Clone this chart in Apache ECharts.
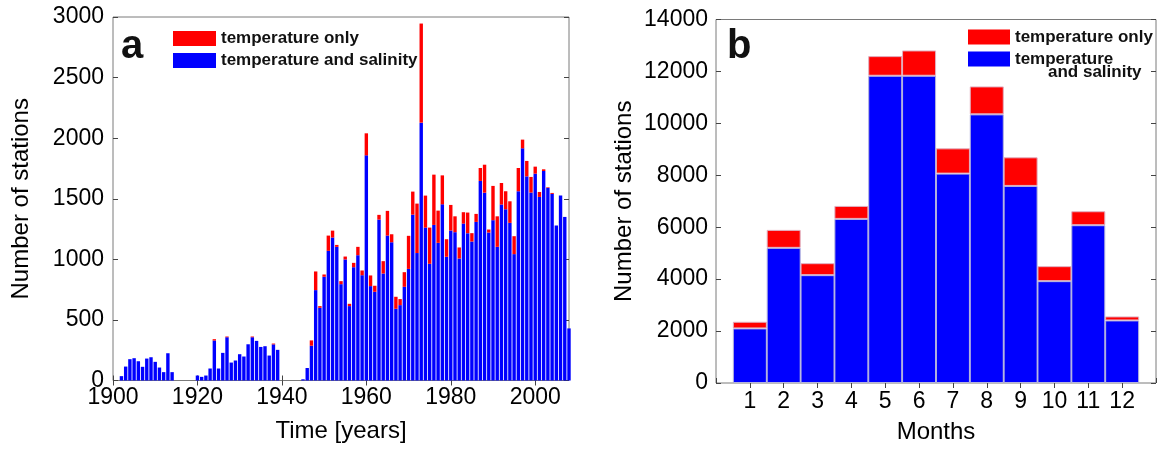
<!DOCTYPE html>
<html><head><meta charset="utf-8">
<script src="https://cdn.jsdelivr.net/npm/echarts@6/dist/echarts.min.js"></script>
<style>html,body{margin:0;padding:0;background:#fff}#c{width:1159px;height:449px}</style>
</head><body><div id="c"></div>
<script>
// ---- Panel a: stations per year ----
const years = [
 1900,1901,1902,1903,1904,1905,1906,1907,1908,1909,
 1910,1911,1912,1913,1914,1915,1916,1917,1918,1919,
 1920,1921,1922,1923,1924,1925,1926,1927,1928,1929,
 1930,1931,1932,1933,1934,1935,1936,1937,1938,1939,
 1940,1941,1942,1943,1944,1945,1946,1947,1948,1949,
 1950,1951,1952,1953,1954,1955,1956,1957,1958,1959,
 1960,1961,1962,1963,1964,1965,1966,1967,1968,1969,
 1970,1971,1972,1973,1974,1975,1976,1977,1978,1979,
 1980,1981,1982,1983,1984,1985,1986,1987,1988,1989,
 1990,1991,1992,1993,1994,1995,1996,1997,1998,1999,
 2000,2001,2002,2003,2004,2005,2006,2007,2008];
const tempSalYear = [
 0,0,36,115,176,184,159,113,181,192,
 154,107,69,225,69,0,0,0,0,0,
 41,30,41,99,330,99,228,357,148,165,
 217,198,299,357,327,277,283,206,298,253,
 0,0,0,0,0,10,103,287,746,600,
 856,1070,1180,1103,795,999,614,935,1034,869,
 1858,779,732,1328,883,1196,1141,592,622,773,
 921,1369,1052,2128,1262,963,1284,1136,1454,1021,
 1238,1224,1007,1295,1216,1147,1309,1647,1550,1221,
 1323,1103,1452,1413,1301,1043,1562,1916,1685,1551,
 1707,1515,1729,1590,1540,1279,1526,1350,430];
const tempOnlyYear = [
 0,0,0,0,0,0,0,0,0,0,
 0,0,0,0,0,0,0,0,0,0,
 0,0,0,0,11,0,0,6,0,0,
 0,0,0,6,0,0,0,0,7,0,
 0,0,0,0,0,0,0,44,154,14,
 19,126,57,16,25,24,19,36,69,39,
 182,88,50,39,102,204,66,99,50,121,
 273,190,408,818,264,299,415,266,239,145,
 211,131,91,94,170,69,66,107,231,25,
 283,252,178,149,178,148,192,72,127,129,
 58,41,14,5,8,0,0,0,0];
const yearTickLabels = [1900,1920,1940,1960,1980,2000];
const yTicksA = { min: 0, max: 3000, step: 500 };

// ---- Panel b: stations per month ----
const monthSlots = [0,1,2,3,4,5,6,7,8,9,10,11,12,13];
const months = [1,2,3,4,5,6,7,8,9,10,11,12];
const tempSalMonth = [2103,5205,4154,6320,11833,11833,8064,10346,7590,3923,6077,2410];
const tempOnlyMonth = [256,692,461,500,757,975,974,1077,1102,577,538,154];
const yTicksB = { min: 0, max: 14000, step: 2000 };

const NAME_ONLY = 'temperature only';
const NAME_SAL = 'temperature and salinity';
const FONT = '"Liberation Sans", Arial, Helvetica, sans-serif';
const BLUE = '#0000ff', RED = '#ff0000';

function padMonths(arr) {
  const out = monthSlots.map(() => '-');
  months.forEach((m, i) => { out[monthSlots.indexOf(m)] = arr[i]; });
  return out;
}

const labelStyle = { fontSize: 23, fontFamily: FONT, color: '#000' };
const nameStyle = { fontSize: 24, fontFamily: FONT, color: '#000' };
const tickStyle = { show: true, inside: true, length: 5, lineStyle: { color: '#444', width: 1 } };
const yearTickFilter = (idx) => yearTickLabels.indexOf(years[idx]) >= 0;
const plain = (v) => String(v);

const chart = echarts.init(document.getElementById('c'), null, { renderer: 'canvas' });
chart.setOption({
  animation: false,
  backgroundColor: '#fff',
  grid: [
    { left: 113, top: 17, width: 456, height: 363.5, show: true, borderColor: '#7a7a7a', borderWidth: 1, backgroundColor: 'transparent' },
    { left: 716, top: 19.5, width: 442, height: 364, show: true, borderColor: '#7a7a7a', borderWidth: 1, backgroundColor: 'transparent' }
  ],
  xAxis: [
    { gridIndex: 0, type: 'category', data: years, boundaryGap: false, position: 'bottom',
      axisLine: { show: false }, axisTick: Object.assign({ interval: yearTickFilter }, tickStyle),
      axisLabel: Object.assign({ interval: yearTickFilter, margin: 6, hideOverlap: false,
        formatter: (v) => (yearTickLabels.indexOf(Number(v)) >= 0 ? String(v) : '') }, labelStyle),
      splitLine: { show: false },
      name: 'Time [years]', nameLocation: 'middle', nameGap: 39, nameTextStyle: nameStyle },
    { gridIndex: 1, type: 'category', data: monthSlots, boundaryGap: false, position: 'bottom',
      axisLine: { show: false }, axisTick: Object.assign({ interval: 0 }, tickStyle),
      axisLabel: Object.assign({ interval: 0, margin: 7, hideOverlap: false,
        formatter: (v) => (months.indexOf(Number(v)) >= 0 ? String(v) : '') }, labelStyle),
      splitLine: { show: false },
      name: 'Months', nameLocation: 'middle', nameGap: 37, nameTextStyle: nameStyle },
    { gridIndex: 0, type: 'category', data: years, boundaryGap: false, position: 'top',
      axisLine: { show: false }, axisTick: Object.assign({ interval: yearTickFilter }, tickStyle),
      axisLabel: { show: false }, splitLine: { show: false } },
    { gridIndex: 1, type: 'category', data: monthSlots, boundaryGap: false, position: 'top',
      axisLine: { show: false },
      axisTick: Object.assign({ interval: (idx) => months.indexOf(monthSlots[idx]) >= 0 }, tickStyle),
      axisLabel: { show: false }, splitLine: { show: false } }
  ],
  yAxis: [
    { gridIndex: 0, type: 'value', min: yTicksA.min, max: yTicksA.max, interval: yTicksA.step,
      axisLine: { show: false }, axisTick: tickStyle, splitLine: { show: false },
      axisLabel: Object.assign({ margin: 9, formatter: plain }, labelStyle),
      name: 'Number of stations', nameLocation: 'middle', nameGap: 80, nameTextStyle: nameStyle },
    { gridIndex: 1, type: 'value', min: yTicksB.min, max: yTicksB.max, interval: yTicksB.step,
      axisLine: { show: false }, axisTick: tickStyle, splitLine: { show: false },
      axisLabel: Object.assign({ margin: 8, formatter: plain }, labelStyle),
      name: 'Number of stations', nameLocation: 'middle', nameGap: 80, nameTextStyle: nameStyle },
    { gridIndex: 0, type: 'value', position: 'right', min: yTicksA.min, max: yTicksA.max, interval: yTicksA.step,
      axisLine: { show: false }, axisTick: tickStyle, splitLine: { show: false }, axisLabel: { show: false } },
    { gridIndex: 1, type: 'value', position: 'right', min: yTicksB.min, max: yTicksB.max, interval: yTicksB.step,
      axisLine: { show: false }, axisTick: tickStyle, splitLine: { show: false }, axisLabel: { show: false } }
  ],
  legend: [
    { left: 168, top: 25, orient: 'vertical', icon: 'rect', itemWidth: 43, itemHeight: 15, itemGap: 5,
      selectedMode: false, data: [NAME_ONLY, NAME_SAL],
      textStyle: { fontSize: 17, fontWeight: 'bold', fontFamily: FONT, color: '#111' } },
    { left: 963, top: 23.5, orient: 'vertical', icon: 'rect', itemWidth: 42, itemHeight: 15, itemGap: 5,
      selectedMode: false, data: [NAME_ONLY, NAME_SAL],
      formatter: (n) => (n === NAME_SAL ? 'temperature' : n),
      textStyle: { fontSize: 17, fontWeight: 'bold', fontFamily: FONT, color: '#111' } }
  ],
  graphic: [
    { type: 'text', left: 121, top: 27, style: { text: 'a', font: 'bold 40px ' + FONT, fill: '#111' } },
    { type: 'text', left: 727, top: 27, style: { text: 'b', font: 'bold 40px ' + FONT, fill: '#111' } },
    { type: 'text', left: 1048, top: 64, style: { text: 'and salinity', font: 'bold 17px ' + FONT, fill: '#111' } }
  ],
  series: [
    { type: 'bar', name: NAME_SAL, xAxisIndex: 0, yAxisIndex: 0, stack: 'years', barWidth: 3.4,
      data: tempSalYear, itemStyle: { color: BLUE } },
    { type: 'bar', name: NAME_ONLY, xAxisIndex: 0, yAxisIndex: 0, stack: 'years', barWidth: 3.4,
      data: tempOnlyYear, itemStyle: { color: RED } },
    { type: 'bar', name: NAME_SAL, xAxisIndex: 1, yAxisIndex: 1, stack: 'months', barWidth: 34,
      data: padMonths(tempSalMonth), itemStyle: { color: BLUE, borderColor: '#b4b4dc', borderWidth: 1 } },
    { type: 'bar', name: NAME_ONLY, xAxisIndex: 1, yAxisIndex: 1, stack: 'months', barWidth: 34,
      data: padMonths(tempOnlyMonth), itemStyle: { color: RED, borderColor: '#e0b0c0', borderWidth: 1 } }
  ]
});
</script>
</body></html>
